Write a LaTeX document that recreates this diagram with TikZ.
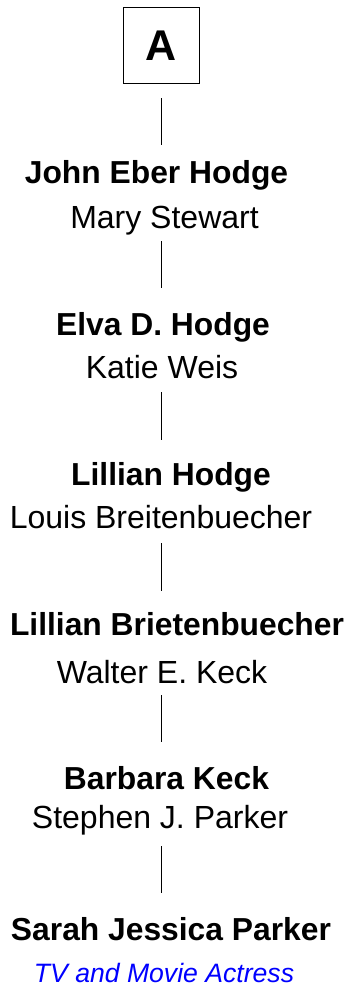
\documentclass[tikz,border=0pt]{standalone}
\usepackage{fontspec}
\setmainfont{Liberation Sans}
\definecolor{roleblue}{RGB}{0,0,255}
\begin{document}
\begin{tikzpicture}[x=1pt,y=-1pt,
  personname/.style={anchor=base,inner sep=0pt,font=\fontsize{31.8}{36}\selectfont\bfseries},
  spousename/.style={anchor=base,inner sep=0pt,font=\fontsize{32}{36}\selectfont},
  roletext/.style={anchor=base,inner sep=0pt,text=roleblue,font=\fontsize{26.6}{31}\selectfont\itshape},
  linkline/.style={draw=black,line width=0.8pt}]
\useasboundingbox (0,0) rectangle (351,989);
\node[draw=black,line width=0.8pt,minimum width=76pt,minimum height=76pt,inner sep=0pt] (box) at (161,45) {};
\node[anchor=base,inner sep=0pt,font=\fontsize{43}{48}\selectfont\bfseries] (A) at (161,60) {A};
\node[personname] (n1) at (156.5,183) {John Eber Hodge};
\node[spousename] (s1) at (164.5,228) {Mary Stewart};
\node[personname] (n2) at (163,335) {Elva D. Hodge};
\node[spousename] (s2) at (162,378) {Katie Weis};
\node[personname] (n3) at (171,485) {Lillian Hodge};
\node[spousename] (s3) at (161,528) {Louis Breitenbuecher};
\node[personname] (n4) at (177,635) {Lillian Brietenbuecher};
\node[spousename] (s4) at (162,683) {Walter E. Keck};
\node[personname] (n5) at (166.5,789) {Barbara Keck};
\node[spousename] (s5) at (160,828) {Stephen J. Parker};
\node[personname] (n6) at (171,940) {Sarah Jessica Parker};
\node[roletext] (r6) at (164,982) {TV and Movie Actress};
\coordinate (a1) at (161,98);  \coordinate (b1) at (161,145);
\coordinate (a2) at (161,241); \coordinate (b2) at (161,288);
\coordinate (a3) at (161,392); \coordinate (b3) at (161,440);
\coordinate (a4) at (161,543); \coordinate (b4) at (161,591);
\coordinate (a5) at (161,695); \coordinate (b5) at (161,742);
\coordinate (a6) at (161,846); \coordinate (b6) at (161,893);
\foreach \i in {1,...,6} \draw[linkline] (a\i) -- (b\i);
\end{tikzpicture}
\end{document}
